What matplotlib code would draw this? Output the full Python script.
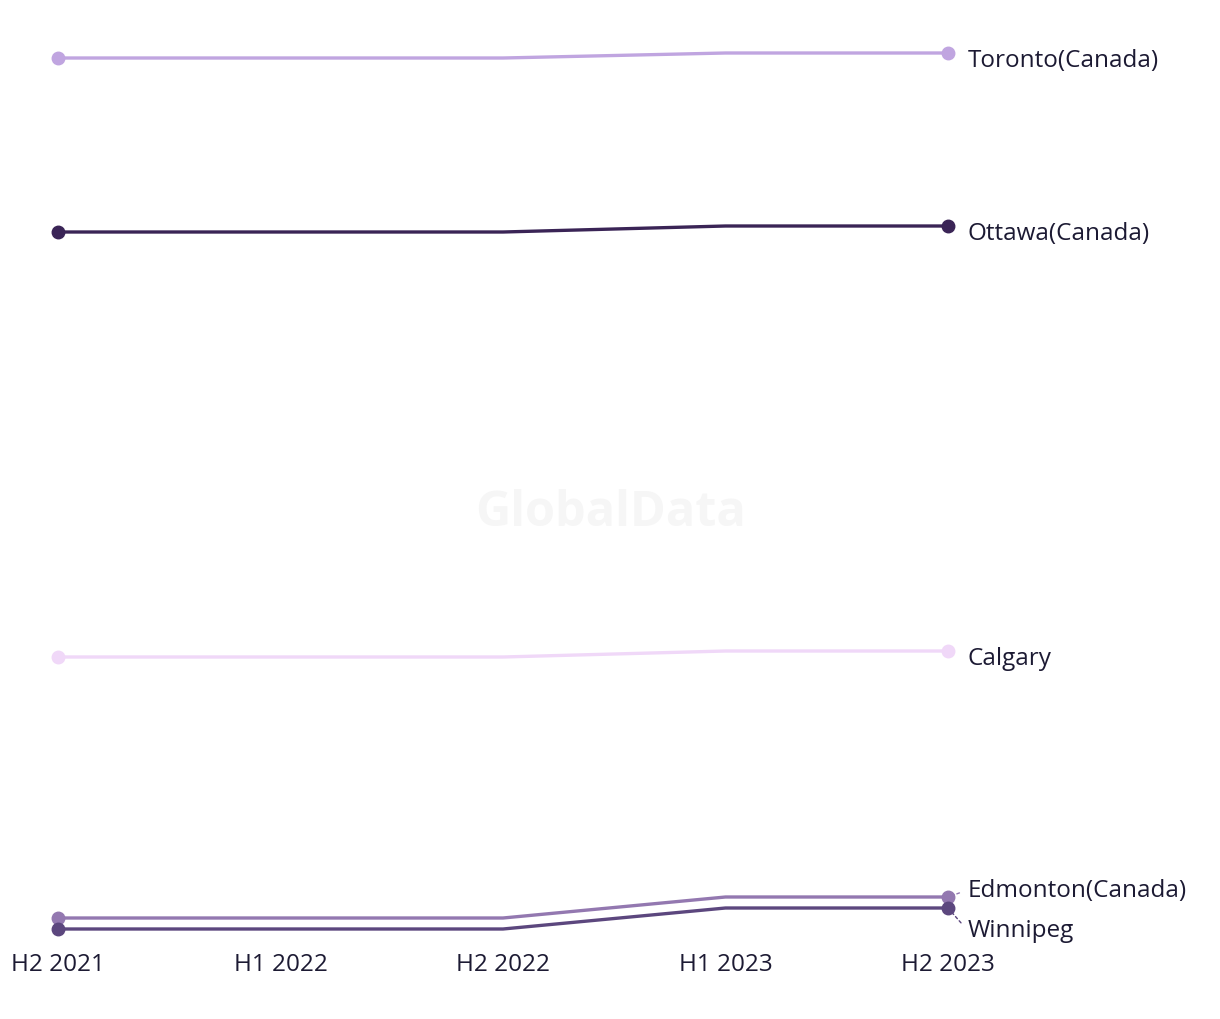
import matplotlib.pyplot as plt

# Data
periods = ['H2 2021', 'H1 2022', 'H2 2022', 'H1 2023', 'H2 2023']
cities = ['Toronto(Canada)', 'Ottawa(Canada)', 'Calgary', 'Edmonton(Canada)', 'Winnipeg']
toronto = [88.2, 88.2, 88.2, 88.7, 88.7]
ottawa = [70.8, 70.8, 70.8, 71.4, 71.4]
calgary = [28.3, 28.3, 28.3, 28.9, 28.9]
edmonton = [2.2, 2.2, 2.2, 4.3, 4.3]
winnipeg = [1.1, 1.1, 1.1, 3.2, 3.2]
series = [toronto, ottawa, calgary, edmonton, winnipeg]
colors = ['#C0A5E0', '#3A2456', '#F0D8F8', '#9378B0', '#5C477E']

# label offsets in points (for the two crowded bottom lines)
label_dy = [0, 0, 0, 5, -16]

plt.rcParams['font.family'] = ['Open Sans', 'DejaVu Sans']

fig = plt.figure(figsize=(12.2, 10.2), dpi=100)
ax = fig.add_axes([58 / 1220, 79 / 1020, 890 / 1220, 900 / 1020])

x = list(range(len(periods)))
for name, vals, col, dy in zip(cities, series, colors, label_dy):
    ax.plot(x, vals, color=col, lw=2.4, solid_capstyle='round', clip_on=False, zorder=3)
    ax.plot([x[0], x[-1]], [vals[0], vals[-1]], 'o', color=col, ms=9, clip_on=False, zorder=4)
    if dy == 0:
        ax.annotate(name, (x[-1], vals[-1]), xytext=(14, -5), textcoords='offset points',
                    va='center', ha='left', fontsize=17.5, color='#1c1a33')
    else:
        ax.annotate(name, (x[-1], vals[-1]), xytext=(14, dy), textcoords='offset points',
                    va='center', ha='left', fontsize=17.5, color='#1c1a33',
                    arrowprops=dict(arrowstyle='-', color=col, lw=1, ls=(0, (2, 2)),
                                    shrinkA=4, shrinkB=2, relpos=(0, 0.5)))

ax.set_xlim(0, 4)
ax.set_ylim(0, 90)
ax.set_xticks(x)
ax.set_xticklabels(periods, fontsize=17.5, color='#1c1a33')
ax.tick_params(axis='x', length=0, pad=9)
ax.set_yticks([])
for s in ax.spines.values():
    s.set_visible(False)

fig.text(0.5, 0.497, 'GlobalData', fontsize=35, fontweight='bold', color='#f6f6f6',
         ha='center', va='center', zorder=0)

fig.savefig('out.png', dpi=100, facecolor='white')
